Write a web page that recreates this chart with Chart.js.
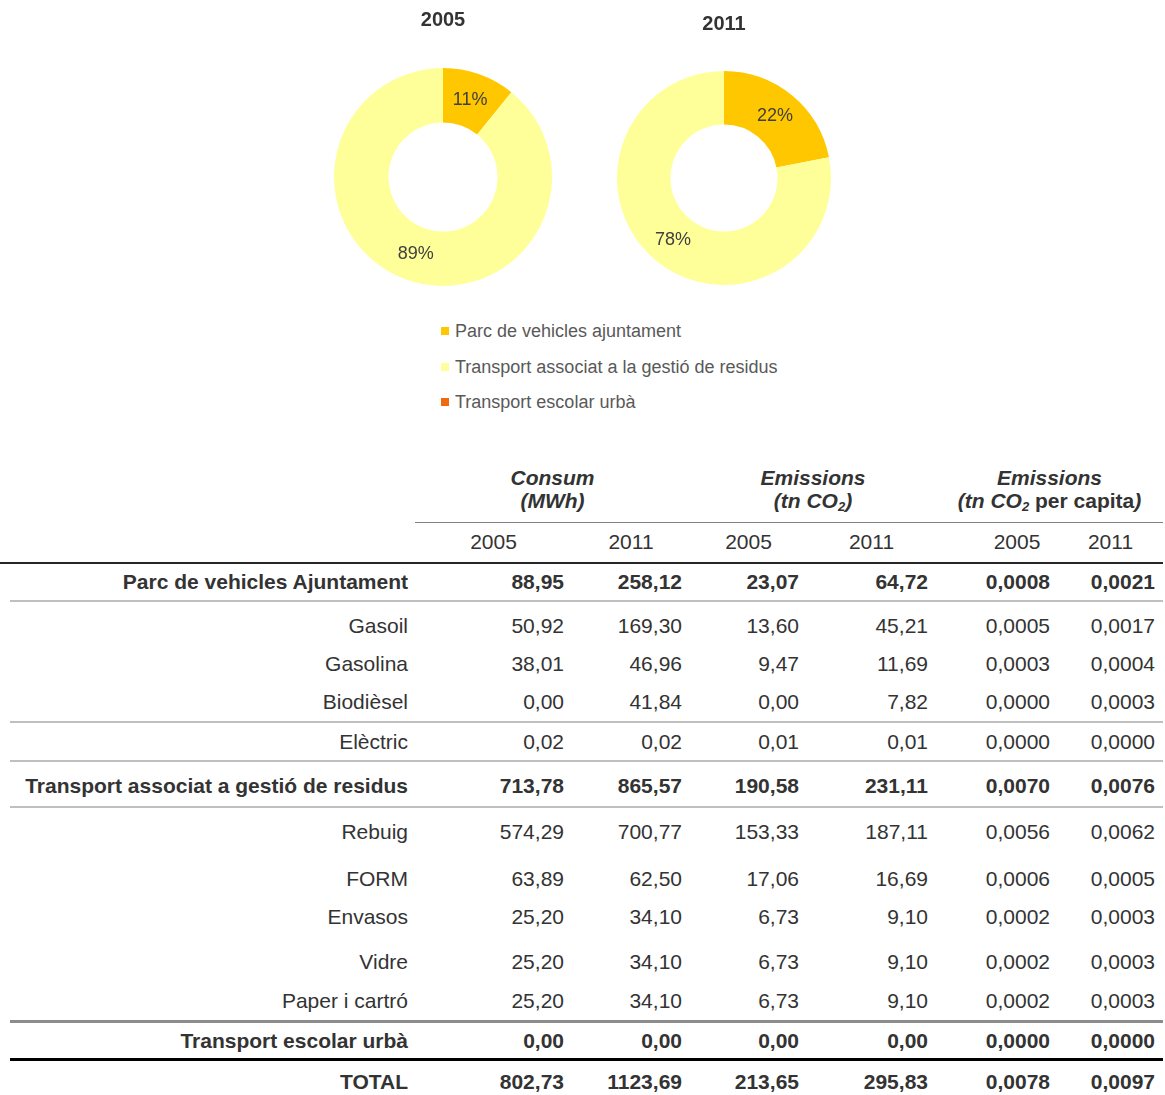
<!DOCTYPE html>
<html>
<head>
<meta charset="utf-8">
<script src="https://cdn.jsdelivr.net/npm/chart.js@4.4.0/dist/chart.umd.min.js"></script>
<style>
  html, body { margin: 0; padding: 0; background: #fff; overflow: hidden; }
  body { width: 1165px; height: 1095px; position: relative; font-family: "Liberation Sans", Arial, sans-serif; color: #333; }
  .pie { position: absolute; top: 0; }
  #pie2005 { left: 334px; width: 218px; height: 286px; }
  #pie2011 { left: 617px; width: 214px; height: 285px; }
  #legend { position: absolute; left: 441px; top: 318px; font-size: 18px; color: #595959; }
  #legend div { height: 35.5px; line-height: 26px; white-space: nowrap; }
  #legend .box { display: inline-block; width: 8px; height: 8px; margin-right: 6px; vertical-align: 2px; }
  #table { position: absolute; left: 0; top: 462px; width: 1165px; font-size: 21px; }
  .row { display: flex; box-sizing: border-box; align-items: center; }
  .cell { box-sizing: border-box; white-space: nowrap; }
  .num { text-align: right; padding-right: 8px; }
  .lab { text-align: right; padding-right: 7px; }
  .b { font-weight: bold; }
  .grp { text-align: center; font-weight: bold; line-height: 23px; align-self: flex-end; padding-bottom: 10px; }
  .grp i { font-style: italic; }
  sub { font-size: 13px; vertical-align: -3px; line-height: 0; }
</style>
</head>
<body>
<div class="pie" id="pie2005"><canvas id="c2005"></canvas></div>
<div class="pie" id="pie2011"><canvas id="c2011"></canvas></div>
<div id="legend"></div>
<div id="table"></div>

<script>
// categories for the doughnuts
const categories = ['Parc de vehicles ajuntament', 'Transport associat a la gestió de residus', 'Transport escolar urbà'];
const sliceColors = ['#FFC700', '#FFFF99', '#F0690F'];

// table
const rowLabels = ['Parc de vehicles Ajuntament', 'Gasoil', 'Gasolina', 'Biodièsel', 'Elèctric',
  'Transport associat a gestió de residus', 'Rebuig', 'FORM', 'Envasos', 'Vidre', 'Paper i cartró',
  'Transport escolar urbà', 'TOTAL'];
const boldRows = [true, false, false, false, false, true, false, false, false, false, false, true, true];
const years = ['2005', '2011'];
const consum2005 = [88.95, 50.92, 38.01, 0.00, 0.02, 713.78, 574.29, 63.89, 25.20, 25.20, 25.20, 0.00, 802.73];
const consum2011 = [258.12, 169.30, 46.96, 41.84, 0.02, 865.57, 700.77, 62.50, 34.10, 34.10, 34.10, 0.00, 1123.69];
const emis2005 = [23.07, 13.60, 9.47, 0.00, 0.01, 190.58, 153.33, 17.06, 6.73, 6.73, 6.73, 0.00, 213.65];
const emis2011 = [64.72, 45.21, 11.69, 7.82, 0.01, 231.11, 187.11, 16.69, 9.10, 9.10, 9.10, 0.00, 295.83];
const capita2005 = [0.0008, 0.0005, 0.0003, 0.0000, 0.0000, 0.0070, 0.0056, 0.0006, 0.0002, 0.0002, 0.0002, 0.0000, 0.0078];
const capita2011 = [0.0021, 0.0017, 0.0004, 0.0003, 0.0000, 0.0076, 0.0062, 0.0005, 0.0003, 0.0003, 0.0003, 0.0000, 0.0097];

// the doughnuts show emissions of the three main groups (rows 0, 5 and 11)
const groupRows = [0, 5, 11];
const pie2005 = groupRows.map(i => emis2005[i]);
const pie2011 = groupRows.map(i => emis2011[i]);

const FONT = '"Liberation Sans", Arial, sans-serif';

// percentage labels in the middle of each slice
const pctLabels = {
  id: 'pctLabels',
  afterDatasetsDraw(chart) {
    const meta = chart.getDatasetMeta(0);
    const vals = chart.data.datasets[0].data;
    const total = vals.reduce((a, b) => a + b, 0);
    const c = chart.ctx;
    c.save();
    c.font = '18px ' + FONT;
    c.fillStyle = '#404040';
    c.textAlign = 'center';
    c.textBaseline = 'middle';
    meta.data.forEach((arc, i) => {
      if (!vals[i]) return;
      const p = arc.tooltipPosition();
      c.fillText(Math.round(vals[i] / total * 100) + '%', p.x, p.y);
    });
    c.restore();
  }
};

function makePie(id, values, title, padTop, padBottom) {
  return new Chart(document.getElementById(id), {
    type: 'doughnut',
    data: {
      labels: categories,
      datasets: [{ data: values, backgroundColor: sliceColors, borderWidth: 0 }]
    },
    options: {
      responsive: true,
      maintainAspectRatio: false,
      animation: false,
      cutout: '50%',
      layout: { padding: 0 },
      plugins: {
        legend: { display: false },
        tooltip: { enabled: false },
        title: {
          display: true, text: title, color: '#333',
          font: { size: 20, weight: 'bold', family: FONT },
          padding: { top: padTop, bottom: padBottom }
        }
      }
    },
    plugins: [pctLabels]
  });
}

makePie('c2005', pie2005, '2005', 8, 36);
makePie('c2011', pie2011, '2011', 12, 35);

// legend
const legend = document.getElementById('legend');
categories.forEach((name, i) => {
  const d = document.createElement('div');
  d.innerHTML = `<span class="box" style="background:${sliceColors[i]}"></span>${name}`;
  legend.appendChild(d);
});

// table
const fmt = (v, n) => v.toFixed(n).replace('.', ',');
const colW = [157, 118, 117, 129, 122, 105];
// row look: height (with border), padding top/bottom, border below
const rowLook = [
  [38.5, 0, 0, '2px solid #bfbfbf'],
  [43, 5, 0, 'none'],
  [38, 0, 0, 'none'],
  [40, 0, 0, '2px solid #bfbfbf'],
  [39, 0, 0, '2px solid #bfbfbf'],
  [46, 4, 0, '2px solid #bfbfbf'],
  [48, 0, 0, 'none'],
  [44, 2, 0, 'none'],
  [36, 0, 2, 'none'],
  [50, 2, 0, 'none'],
  [37, 0, 4, '3px solid #8c8c8c'],
  [38, 0, 0, '3px solid #000'],
  [42, 0, 0, 'none']
];

const tbl = document.getElementById('table');
let html = '';
// group header
html += `<div class="row" style="height:61px;margin-left:415px;width:748px;border-bottom:1.5px solid #7f7f7f">
  <div class="cell grp" style="width:275px"><i>Consum<br>(MWh)</i></div>
  <div class="cell grp" style="width:246px"><i>Emissions<br>(tn CO<sub>2</sub>)</i></div>
  <div class="cell grp" style="width:227px"><i>Emissions<br>(tn CO<sub>2</sub></i> per capita<i>)</i></div>
</div>`;
// years row
html += `<div class="row" style="height:40.5px;width:1163px;border-bottom:2.5px solid #262626">
  <div class="cell" style="width:415px"></div>`;
colW.forEach((w, j) => {
  const pl = j === 4 ? 40 : 0;
  html += `<div class="cell" style="width:${w}px;text-align:center;padding-left:${pl}px">${years[j % 2]}</div>`;
});
html += '</div>';
// data rows
rowLabels.forEach((lab, i) => {
  const [h, pt, pb, border] = rowLook[i];
  const vals = [fmt(consum2005[i], 2), fmt(consum2011[i], 2), fmt(emis2005[i], 2), fmt(emis2011[i], 2),
    fmt(capita2005[i], 4), fmt(capita2011[i], 4)];
  html += `<div class="row${boldRows[i] ? ' b' : ''}" style="height:${h}px;padding-top:${pt}px;padding-bottom:${pb}px;margin-left:10px;width:1153px;border-bottom:${border}">
    <div class="cell lab" style="width:405px">${lab}</div>`;
  vals.forEach((v, j) => {
    html += `<div class="cell num" style="width:${colW[j]}px">${v}</div>`;
  });
  html += '</div>';
});
tbl.innerHTML = html;
</script>
</body>
</html>
